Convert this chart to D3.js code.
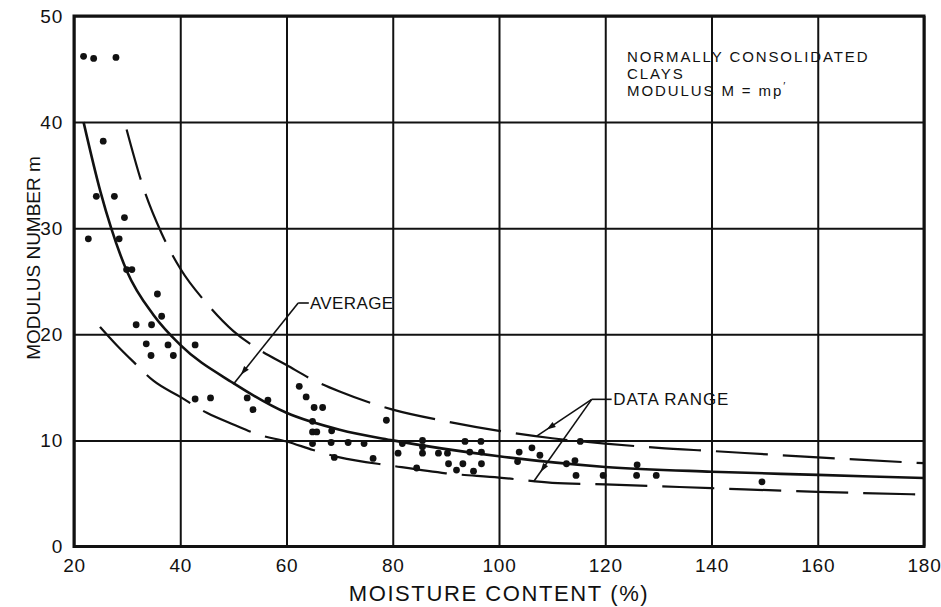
<!DOCTYPE html>
<html>
<head>
<meta charset="utf-8">
<script src="https://cdn.jsdelivr.net/npm/d3@7"></script>
<style>
  html, body { margin: 0; padding: 0; background: #fff; }
  svg text { font-family: "Liberation Sans", Arial, sans-serif; fill: #111; }
</style>
</head>
<body>
<div id="chart"></div>
<script>
// ----------------------------------------------
// Data
// ----------------------------------------------
const xTicks = [20, 40, 60, 80, 100, 120, 140, 160, 180];
const yTicks = [0, 10, 20, 30, 40, 50];

// measured points (moisture content %, modulus number m)
const pointX = [21.8, 23.7, 27.9, 25.5, 24.2, 27.6, 29.5, 22.7, 28.5, 29.9, 30.9, 35.7, 36.5, 31.7, 34.6,
  33.6, 37.7, 42.8, 34.5, 38.7, 42.8, 45.7, 52.6, 53.7, 56.5, 62.4, 63.7, 65.2, 66.8, 64.9,
  64.9, 65.7, 68.5, 64.9, 68.4, 71.6, 69.0, 74.6, 78.8, 76.3, 81.8, 85.6, 85.6, 81.0, 85.6,
  88.6, 90.3, 93.6, 96.6, 94.5, 96.7, 90.5, 93.2, 96.7, 92.0, 95.2, 84.5, 103.8, 103.5, 106.2,
  107.7, 115.3, 114.3, 112.7, 114.5, 119.6, 126.0, 125.9, 129.6, 149.5];
const pointY = [46.2, 46.0, 46.1, 38.2, 33.0, 33.0, 31.0, 29.0, 29.0, 26.1, 26.1, 23.8, 21.7, 20.9, 20.9,
  19.1, 19.0, 19.0, 18.0, 18.0, 13.9, 14.0, 14.0, 12.9, 13.8, 15.1, 14.1, 13.1, 13.1, 11.8,
  10.8, 10.8, 10.9, 9.7, 9.8, 9.8, 8.4, 9.7, 11.9, 8.3, 9.7, 10.0, 9.4, 8.8, 8.8,
  8.8, 8.8, 9.9, 9.9, 8.9, 8.9, 7.8, 7.8, 7.8, 7.2, 7.1, 7.4, 8.9, 8.0, 9.3,
  8.6, 9.9, 8.1, 7.8, 6.7, 6.7, 7.7, 6.7, 6.7, 6.1];

// average curve (solid)
const avgX = [21.8, 25, 27, 30, 35, 40, 50, 60, 70, 80, 100, 120, 140, 160, 180];
const avgY = [40.0, 33.4, 30.0, 25.9, 21.8, 19.0, 15.4, 12.6, 11.0, 10.0, 8.5, 7.5, 7.05, 6.75, 6.45];

// upper limit of data range (dashed)
const upperX = [29.9, 33, 36.5, 40, 45, 50, 55, 60, 65, 70, 80, 90, 100, 110, 120, 130, 140, 160, 180];
const upperY = [39.3, 33.9, 29.5, 26.2, 22.9, 20.3, 18.5, 17.1, 15.7, 14.6, 12.9, 11.8, 10.9, 10.2, 9.7, 9.3, 9.0, 8.4, 7.85];

// lower limit of data range (dashed)
const lowerX = [24.9, 28, 31.2, 35, 40, 45, 50, 55, 60, 65, 70, 80, 90, 100, 110, 120, 140, 160, 180];
const lowerY = [20.7, 19.0, 17.4, 15.6, 14.1, 12.6, 11.5, 10.5, 9.9, 9.1, 8.4, 7.6, 6.9, 6.5, 6.0, 5.85, 5.5, 5.15, 4.9];

const noteLines = ['NORMALLY CONSOLIDATED', 'CLAYS', 'MODULUS  M = mp'];

// ----------------------------------------------
// Layout
// ----------------------------------------------
const width = 941, height = 607;
const margin = { left: 74, right: 17, top: 16, bottom: 60.5 };

const svg = d3.select('#chart').append('svg')
  .attr('width', width)
  .attr('height', height);

const x = d3.scaleLinear().domain([20, 180]).range([margin.left, width - margin.right]);
const y = d3.scaleLinear().domain([0, 50]).range([height - margin.bottom, margin.top]);
const plotW = x.range()[1] - x.range()[0];
const plotH = y.range()[0] - y.range()[1];

// gridlines
svg.append('g')
  .attr('transform', `translate(0,${y(0)})`)
  .call(d3.axisBottom(x).tickValues(xTicks).tickSize(-plotH).tickFormat(''))
  .call(g => g.select('.domain').remove())
  .call(g => g.selectAll('line').attr('stroke', '#111').attr('stroke-width', 2));

svg.append('g')
  .attr('transform', `translate(${x(20)},0)`)
  .call(d3.axisLeft(y).tickValues(yTicks).tickSize(-plotW).tickFormat(''))
  .call(g => g.select('.domain').remove())
  .call(g => g.selectAll('line').attr('stroke', '#111').attr('stroke-width', 2));

// frame
svg.append('rect')
  .attr('x', x(20)).attr('y', y(50))
  .attr('width', plotW).attr('height', plotH)
  .attr('fill', 'none').attr('stroke', '#111').attr('stroke-width', 3);

// tick labels
svg.append('g')
  .attr('transform', `translate(0,${y(0)})`)
  .call(d3.axisBottom(x).tickValues(xTicks).tickSize(0).tickPadding(12))
  .call(g => g.select('.domain').remove())
  .call(g => g.selectAll('text').attr('font-size', 19).attr('letter-spacing', 0.8).attr('dy', '0.71em'));

svg.append('g')
  .attr('transform', `translate(${x(20)},0)`)
  .call(d3.axisLeft(y).tickValues(yTicks).tickSize(0).tickPadding(11))
  .call(g => g.select('.domain').remove())
  .call(g => g.selectAll('text').attr('font-size', 19).attr('letter-spacing', 0.8));

// axis titles
svg.append('text')
  .attr('x', (x(20) + x(180)) / 2)
  .attr('y', 601)
  .attr('text-anchor', 'middle')
  .attr('font-size', 22)
  .attr('letter-spacing', 1.6)
  .text('MOISTURE CONTENT (%)');

svg.append('text')
  .attr('transform', 'translate(40,258) rotate(-90)')
  .attr('text-anchor', 'middle')
  .attr('font-size', 19)
  .text('MODULUS NUMBER m');

// ----------------------------------------------
// Curves
// ----------------------------------------------
const line = d3.line()
  .x(d => x(d[0]))
  .y(d => y(d[1]))
  .curve(d3.curveMonotoneX);

svg.append('path')
  .datum(d3.zip(upperX, upperY))
  .attr('d', line)
  .attr('fill', 'none').attr('stroke', '#111')
  .attr('stroke-width', 2.2).attr('stroke-dasharray', '52,15');

svg.append('path')
  .datum(d3.zip(lowerX, lowerY))
  .attr('d', line)
  .attr('fill', 'none').attr('stroke', '#111')
  .attr('stroke-width', 2.2).attr('stroke-dasharray', '52,15');

svg.append('path')
  .datum(d3.zip(avgX, avgY))
  .attr('d', line)
  .attr('fill', 'none').attr('stroke', '#111')
  .attr('stroke-width', 2.6);

// points
svg.append('g')
  .selectAll('circle')
  .data(d3.zip(pointX, pointY))
  .join('circle')
  .attr('cx', d => x(d[0]))
  .attr('cy', d => y(d[1]))
  .attr('r', 3.4)
  .attr('fill', '#111');

// ----------------------------------------------
// Annotations
// ----------------------------------------------
function arrowHead(g, x1, y1, x2, y2, back) {
  // small filled triangle a little before the tip, pointing to it
  const len = Math.hypot(x2 - x1, y2 - y1);
  const ux = (x2 - x1) / len, uy = (y2 - y1) / len;
  const tx = x2 - ux * back, ty = y2 - uy * back;
  const bx = tx - ux * 9, by = ty - uy * 9;
  const px = -uy * 3, py = ux * 3;
  g.append('path')
    .attr('d', `M${tx},${ty}L${bx + px},${by + py}L${bx - px},${by - py}Z`)
    .attr('fill', '#111');
}

function leader(knee, tip, back) {
  const g = svg.append('g');
  g.append('line')
    .attr('x1', knee[0]).attr('y1', knee[1])
    .attr('x2', tip[0]).attr('y2', tip[1])
    .attr('stroke', '#111').attr('stroke-width', 1.6);
  arrowHead(g, knee[0], knee[1], tip[0], tip[1], back);
}

// AVERAGE
const avgKnee = [x(62.2), y(22.95)];
svg.append('line')
  .attr('x1', avgKnee[0]).attr('y1', avgKnee[1])
  .attr('x2', x(64.2)).attr('y2', avgKnee[1])
  .attr('stroke', '#111').attr('stroke-width', 1.6);
leader(avgKnee, [x(50), y(15.3)], 12);
svg.append('text')
  .attr('x', x(64.4)).attr('y', avgKnee[1] + 6)
  .attr('font-size', 17)
  .attr('letter-spacing', 0.4)
  .text('AVERAGE');

// DATA RANGE
const drKnee = [x(117.45), y(13.87)];
svg.append('line')
  .attr('x1', drKnee[0]).attr('y1', drKnee[1])
  .attr('x2', x(121.2)).attr('y2', drKnee[1])
  .attr('stroke', '#111').attr('stroke-width', 1.6);
leader(drKnee, [x(107.1), y(10.4)], 12);
leader(drKnee, [x(106.5), y(6.1)], 12);
svg.append('text')
  .attr('x', x(121.5)).attr('y', drKnee[1] + 6)
  .attr('font-size', 17)
  .attr('letter-spacing', 0.9)
  .text('DATA RANGE');

// note, top right
const note = svg.append('text')
  .attr('font-size', 15)
  .attr('letter-spacing', 1.9);
noteLines.forEach((t, i) => {
  note.append('tspan')
    .attr('x', x(124.1))
    .attr('y', 62 + i * 17)
    .text(t);
});
note.append('tspan')
  .attr('dy', -6)
  .attr('font-size', 11)
  .text('\u2032');
</script>
</body>
</html>
